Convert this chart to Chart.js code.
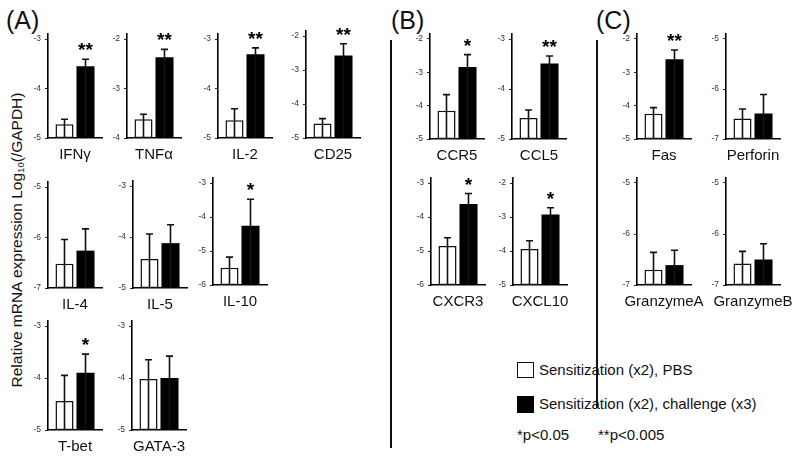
<!DOCTYPE html>
<html>
<head>
<meta charset="utf-8">
<script src="https://cdn.jsdelivr.net/npm/chart.js@4"></script>
<style>
  html, body { margin:0; padding:0; background:#fff; }
  body { width:796px; height:458px; position:relative; overflow:hidden; font-family:"Liberation Sans", Arial, sans-serif; color:#111; }
  canvas { position:absolute; }
  .t { position:absolute; white-space:nowrap; }
  .panel { font-size:25px; line-height:24px; }
  .leg { font-size:15px; line-height:18px; }
  .box { position:absolute; box-sizing:border-box; }
  .vline { position:absolute; width:2px; background:#111; }
  #ytitle { position:absolute; width:330px; height:18px; line-height:18px; font-size:15.5px; text-align:center; transform:rotate(-90deg); }
  #ytitle sub { font-size:0.62em; vertical-align:-0.2em; line-height:0; }
</style>
</head>
<body>
<div class="t panel" style="left:6px; top:8px;">(A)</div>
<div class="t panel" style="left:391px; top:8px;">(B)</div>
<div class="t panel" style="left:596px; top:8px;">(C)</div>
<div id="ytitle" style="left:-148px; top:231px;">Relative mRNA expression Log<sub>10</sub>(/GAPDH)</div>
<div class="vline" style="left:390px; top:40px; height:408px;"></div>
<div class="vline" style="left:596px; top:40px; height:368px;"></div>

<div class="box" style="left:517px; top:362px; width:17px; height:16px; border:1.5px solid #111; background:#fff;"></div>
<div class="t leg" style="left:539px; top:361px;">Sensitization (x2), PBS</div>
<div class="box" style="left:517px; top:396px; width:17px; height:17px; background:#000;"></div>
<div class="t leg" style="left:539px; top:395px;">Sensitization (x2), challenge (x3)</div>
<div class="t leg" style="left:517px; top:426px;">*p&lt;0.05</div>
<div class="t leg" style="left:598px; top:426px;">**p&lt;0.005</div>

<script>
// ---------------- data ----------------
const genes = ['IFNγ','TNFα','IL-2','CD25','IL-4','IL-5','IL-10','T-bet','GATA-3',
               'CCR5','CCL5','CXCR3','CXCL10','Fas','Perforin','GranzymeA','GranzymeB'];
const axisMin = [-5,-4,-5,-5,-7,-5,-6,-5,-5,-5,-5,-6,-5,-5,-7,-7,-7];
const axisMax = [-3,-2,-3,-2,-5,-3,-3,-3,-3,-2,-3,-3,-2,-2,-5,-5,-5];
const pbsMean  = [-4.72,-3.62,-4.64,-4.57,-6.52,-4.43,-5.49,-4.44,-4.02,-4.15,-4.58,-4.85,-3.94,-4.24,-6.59,-6.70,-6.58];
const pbsSem   = [ 0.10, 0.10, 0.23, 0.14, 0.48, 0.49, 0.31, 0.49, 0.37, 0.48, 0.16, 0.24, 0.24, 0.18, 0.19, 0.34, 0.24];
const chalMean = [-3.55,-2.37,-3.31,-2.57,-6.26,-4.12,-4.26,-3.90,-4.00,-2.84,-3.49,-3.62,-2.93,-2.61,-6.49,-6.61,-6.50];
const chalSem  = [ 0.14, 0.16, 0.13, 0.34, 0.43, 0.36, 0.78, 0.36, 0.42, 0.37, 0.15, 0.31, 0.20, 0.28, 0.38, 0.29, 0.31];
const significance = ['**','**','**','**','','','*','*','','*','**','*','*','**','','',''];

// ---------------- layout (page pixels): y-axis x, top tick y, bottom y ----------------
const frames = [
  [48, 39, 138], [127, 39, 138], [218, 39, 138], [306, 36, 138],
  [48, 187, 288], [133, 186, 288], [213, 183, 285],
  [48, 326, 430], [132, 326, 430],
  [430, 39, 139], [512, 39, 139], [431, 183, 285], [513, 183, 285],
  [637, 39, 139], [726, 39, 139], [637, 183, 285], [726, 183, 285]
];

const FONT = '"Liberation Sans", Arial, sans-serif';
const YW = 34, PT = 34, PR = 40, XH = 26, EXT = 5, AW = 54;

const errorBars = {
  id: 'errorBars',
  afterDatasetsDraw(chart) {
    const ctx = chart.ctx, ys = chart.scales.y;
    chart.data.datasets.forEach((ds, di) => {
      const meta = chart.getDatasetMeta(di);
      meta.data.forEach((el, j) => {
        const top = ds.data[j][1] + ds.sem[j];
        const py = ys.getPixelForValue(top);
        ctx.save();
        ctx.strokeStyle = '#111';
        ctx.lineWidth = 1.6;
        ctx.beginPath();
        ctx.moveTo(el.x, el.y);
        ctx.lineTo(el.x, py);
        ctx.moveTo(el.x - 3.5, py);
        ctx.lineTo(el.x + 3.5, py);
        ctx.stroke();
        if (ds.sig && ds.sig[j]) {
          ctx.fillStyle = '#000';
          ctx.font = 'bold 19px ' + FONT;
          ctx.textAlign = 'center';
          ctx.textBaseline = 'alphabetic';
          ctx.fillText(ds.sig[j], el.x, py - 3);
        }
        ctx.restore();
      });
    });
  }
};

genes.forEach((g, i) => {
  const [xa, yTop, yBot] = frames[i];
  const cv = document.createElement('canvas');
  const W = AW + YW + PR;
  const H = (yBot - yTop) + EXT + PT + XH;
  cv.width = W; cv.height = H;
  cv.style.left = (xa - YW) + 'px';
  cv.style.top = (yTop - EXT - PT) + 'px';
  document.body.appendChild(cv);
  const unitPx = (yBot - yTop) / (axisMax[i] - axisMin[i]);
  const yMax = axisMax[i] + EXT / unitPx;
  const tickVals = [];
  for (let v = axisMin[i]; v <= axisMax[i]; v++) tickVals.push(v);
  new Chart(cv, {
    type: 'bar',
    data: {
      labels: [g],
      datasets: [
        { label: 'Sensitization (x2), PBS', data: [[axisMin[i], pbsMean[i]]], sem: [pbsSem[i]],
          backgroundColor: '#fff', borderColor: '#111', borderWidth: 1.5, borderSkipped: false },
        { label: 'Sensitization (x2), challenge (x3)', data: [[axisMin[i], chalMean[i]]], sem: [chalSem[i]],
          sig: [significance[i]], backgroundColor: '#000', borderColor: '#000', borderWidth: 0 }
      ]
    },
    options: {
      responsive: false, animation: false, devicePixelRatio: 1,
      layout: { padding: { top: PT, right: PR, left: 0, bottom: 0 } },
      plugins: { legend: { display: false }, tooltip: { enabled: false } },
      datasets: { bar: { categoryPercentage: 42 / AW, barPercentage: 0.86 } },
      scales: {
        x: {
          grid: { display: false },
          border: { display: true, color: '#000', width: 1.6 },
          ticks: { font: { family: FONT, size: 15 }, color: '#111', padding: 0, maxRotation: 0, minRotation: 0, autoSkip: false },
          afterFit: s => { s.height = XH; s.paddingLeft = 0; s.paddingRight = 0; }
        },
        y: {
          min: axisMin[i], max: yMax,
          grid: { drawOnChartArea: false, drawTicks: true, tickLength: 3, color: '#222', lineWidth: 1 },
          border: { display: true, color: '#000', width: 1.6 },
          ticks: { font: { family: FONT, size: 8.5 }, color: '#333', padding: 4 },
          afterBuildTicks: s => { s.ticks = tickVals.map(v => ({ value: v })); },
          afterFit: s => { s.width = YW; s.paddingTop = 0; s.paddingBottom = 0; }
        }
      }
    },
    plugins: [errorBars]
  });
});
</script>
</body>
</html>
